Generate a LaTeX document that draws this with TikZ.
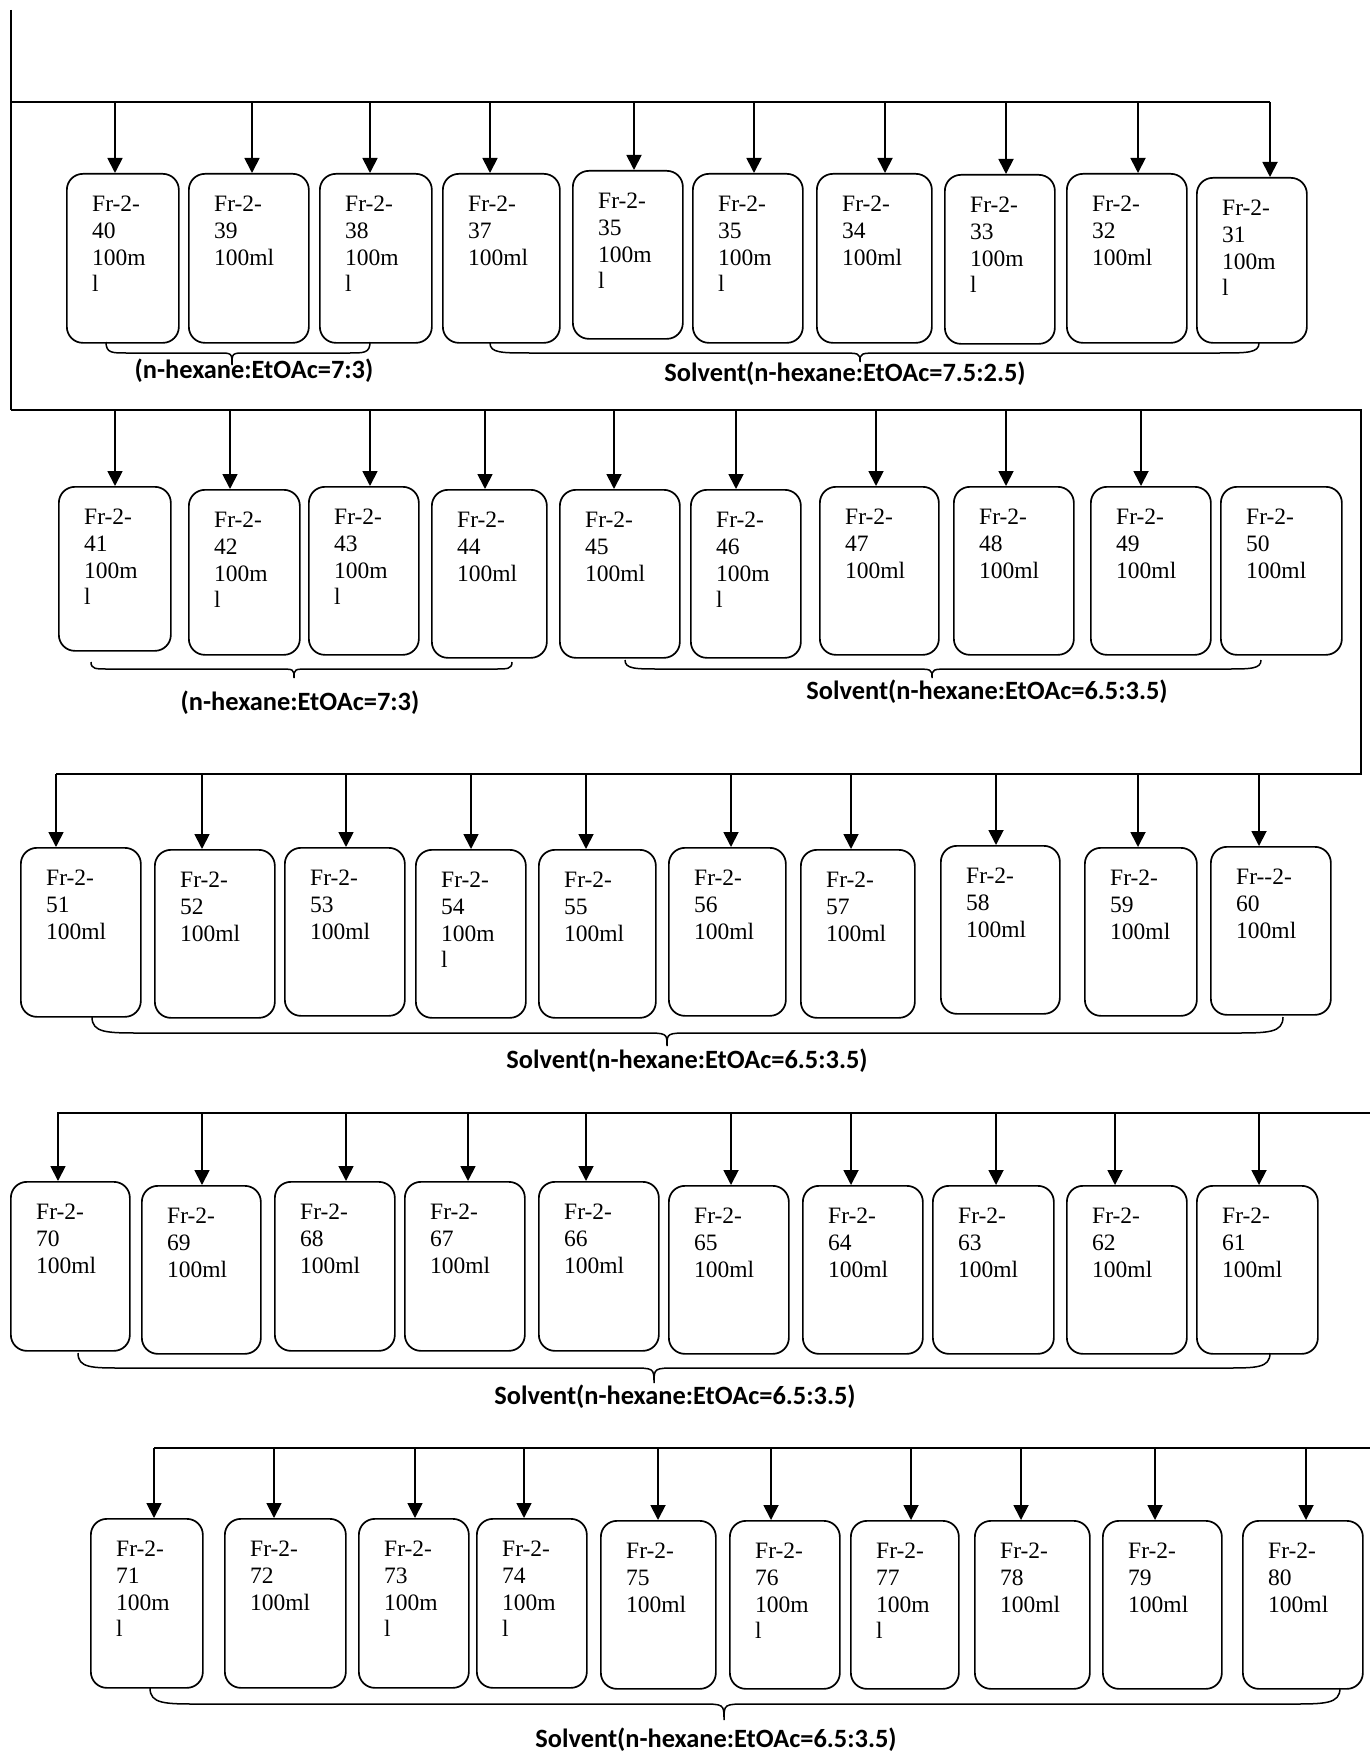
\documentclass[tikz,border=0pt]{standalone}
\usepackage{fontspec}
\setmainfont{Liberation Serif}
\newfontfamily\solfont{Carlito}
\usetikzlibrary{arrows.meta}
\tikzset{
  fracbx/.style={draw, rounded corners=16pt, line width=1.7pt, inner sep=0pt},
  ftxt/.style={inner sep=0pt, align=left, font=\fontsize{23.5}{26.7}\selectfont},
  arr/.style={line width=1.8pt, -{Triangle[length=15pt,width=15pt]}},
  bus/.style={line width=2pt},
  brc/.style={line width=1.5pt},
  sol/.style={inner sep=0pt, font=\solfont\bfseries\fontsize{26.4}{30}\selectfont}
}
\newcommand\fracbox[6]{%
  \node[fracbx, minimum width={(#4-#2)*1pt}, minimum height={(#5-#3)*1pt}, anchor=north west] (#1) at (#2,#3) {};
  \node[ftxt, anchor=north west, xshift=26pt, yshift=-23pt] (#1t) at (#1.north west) {#6};
}
\newcommand\feed[3]{% name, x, y of bus
  \coordinate (t#1) at (#2,#3);
  \draw[arr] (t#1) -- (t#1 |- #1.north);
}
% xL, xT, xR, yTop, yH, yTip, rEnd, rTip
\newcommand\solbrace[8]{%
  \draw[brc] (#1,#4) .. controls (#1,#5) and (#1+0.3*#7,#5) .. (#1+#7,#5) -- (#2-#8,#5)
    .. controls (#2,#5) .. (#2,#6) .. controls (#2,#5) .. (#2+#8,#5)
    -- (#3-#7,#5) .. controls (#3-0.3*#7,#5) and (#3,#5) .. (#3,#4);
}
\begin{document}
\begin{tikzpicture}[x=1pt,y=-1pt]
\useasboundingbox (0,0) rectangle (1370,1752);

% ---------------- Row 1
\fracbox{b40}{66}{173}{178}{342}{Fr-2-\\40\\100m\\l}
\fracbox{b39}{188}{173}{308}{342}{Fr-2-\\39\\100ml}
\fracbox{b38}{319}{173}{431}{342}{Fr-2-\\38\\100m\\l}
\fracbox{b37}{442}{173}{559}{342}{Fr-2-\\37\\100ml}
\fracbox{b35a}{572}{170}{682}{338}{Fr-2-\\35\\100m\\l}
\fracbox{b35b}{692}{173}{802}{342}{Fr-2-\\35\\100m\\l}
\fracbox{b34}{816}{173}{931}{342}{Fr-2-\\34\\100ml}
\fracbox{b33}{944}{174}{1054}{343}{Fr-2-\\33\\100m\\l}
\fracbox{b32}{1066}{173}{1186}{342}{Fr-2-\\32\\100ml}
\fracbox{b31}{1196}{177}{1306}{342}{Fr-2-\\31\\100m\\l}

\coordinate (top) at (11,10);
\coordinate (r1l) at (11,102);
\coordinate (r1r) at (1270,102);
\coordinate (r2l) at (11,410);
\coordinate (r2r) at (1361,410);
\draw[bus] (top) -- (r2l);
\draw[bus] (r1l) -- (r1r);

\feed{b40}{115}{102}
\feed{b39}{252}{102}
\feed{b38}{370}{102}
\feed{b37}{490}{102}
\feed{b35a}{634}{102}
\feed{b35b}{754}{102}
\feed{b34}{885}{102}
\feed{b33}{1006}{102}
\feed{b32}{1138}{102}
\feed{b31}{1270}{102}

\solbrace{106}{232}{370}{342}{353}{365}{20}{14}
\solbrace{490}{860}{1259}{343}{353}{362}{40}{22}
\node[sol] (s1a) at (254,371) {(n-hexane:EtOAc=7:3)};
\node[sol] (s1b) at (845,374) {Solvent(n-hexane:EtOAc=7.5:2.5)};

% ---------------- Row 2
\fracbox{b41}{58}{486}{170}{650}{Fr-2-\\41\\100m\\l}
\fracbox{b42}{188}{489}{299}{654}{Fr-2-\\42\\100m\\l}
\fracbox{b43}{308}{486}{418}{654}{Fr-2-\\43\\100m\\l}
\fracbox{b44}{431}{489}{546}{657}{Fr-2-\\44\\100ml}
\fracbox{b45}{559}{489}{679}{657}{Fr-2-\\45\\100ml}
\fracbox{b46}{690}{489}{800}{657}{Fr-2-\\46\\100m\\l}
\fracbox{b47}{819}{486}{938}{654}{Fr-2-\\47\\100ml}
\fracbox{b48}{953}{486}{1073}{654}{Fr-2-\\48\\100ml}
\fracbox{b49}{1090}{486}{1210}{654}{Fr-2-\\49\\100ml}
\fracbox{b50}{1220}{486}{1341}{654}{Fr-2-\\50\\100ml}

\coordinate (r3r) at (1361,774);
\coordinate (r3l) at (56,774);
\draw[bus] (r2l) -- (r2r) -- (r3r) -- (r3l);

\feed{b41}{115}{410}
\feed{b42}{230}{410}
\feed{b43}{370}{410}
\feed{b44}{485}{410}
\feed{b45}{614}{410}
\feed{b46}{736}{410}
\feed{b47}{876}{410}
\feed{b48}{1006}{410}
\feed{b49}{1141}{410}

\solbrace{91}{294}{512}{662}{669}{678}{16}{16}
\solbrace{625}{932}{1261}{660}{669}{678}{35}{20}
\node[sol] (s2a) at (300,703) {(n-hexane:EtOAc=7:3)};
\node[sol] (s2b) at (987,692) {Solvent(n-hexane:EtOAc=6.5:3.5)};

% ---------------- Row 3
\fracbox{b51}{20}{847}{140}{1016}{Fr-2-\\51\\100ml}
\fracbox{b52}{154}{849}{274}{1017}{Fr-2-\\52\\100ml}
\fracbox{b53}{284}{847}{404}{1015}{Fr-2-\\53\\100ml}
\fracbox{b54}{415}{849}{525}{1017}{Fr-2-\\54\\100m\\l}
\fracbox{b55}{538}{849}{655}{1017}{Fr-2-\\55\\100ml}
\fracbox{b56}{668}{847}{785}{1015}{Fr-2-\\56\\100ml}
\fracbox{b57}{800}{849}{914}{1017}{Fr-2-\\57\\100ml}
\fracbox{b58}{940}{845}{1059}{1013}{Fr-2-\\58\\100ml}
\fracbox{b59}{1084}{847}{1196}{1015}{Fr-2-\\59\\100ml}
\fracbox{b60}{1210}{846}{1330}{1014}{Fr-{}-2-\\60\\100ml}

\feed{b51}{56}{774}
\feed{b52}{202}{774}
\feed{b53}{346}{774}
\feed{b54}{471}{774}
\feed{b55}{586}{774}
\feed{b56}{731}{774}
\feed{b57}{851}{774}
\feed{b58}{996}{774}
\feed{b59}{1138}{774}
\feed{b60}{1259}{774}

\solbrace{92}{667}{1283}{1017}{1033}{1046}{50}{24}
\node[sol] (s3) at (687,1061) {Solvent(n-hexane:EtOAc=6.5:3.5)};

% ---------------- Row 4
\fracbox{b70}{10}{1181}{129}{1350}{Fr-2-\\70\\100ml}
\fracbox{b69}{141}{1185}{260}{1353}{Fr-2-\\69\\100ml}
\fracbox{b68}{274}{1181}{394}{1350}{Fr-2-\\68\\100ml}
\fracbox{b67}{404}{1181}{524}{1350}{Fr-2-\\67\\100ml}
\fracbox{b66}{538}{1181}{658}{1350}{Fr-2-\\66\\100ml}
\fracbox{b65}{668}{1185}{788}{1353}{Fr-2-\\65\\100ml}
\fracbox{b64}{802}{1185}{922}{1353}{Fr-2-\\64\\100ml}
\fracbox{b63}{932}{1185}{1053}{1353}{Fr-2-\\63\\100ml}
\fracbox{b62}{1066}{1185}{1186}{1353}{Fr-2-\\62\\100ml}
\fracbox{b61}{1196}{1185}{1317}{1353}{Fr-2-\\61\\100ml}

\coordinate (r4l) at (57,1113);
\coordinate (r4r) at (1370,1113);
\draw[bus] (r4l) -- (r4r);

\feed{b70}{58}{1113}
\feed{b69}{202}{1113}
\feed{b68}{346}{1113}
\feed{b67}{468}{1113}
\feed{b66}{586}{1113}
\feed{b65}{731}{1113}
\feed{b64}{851}{1113}
\feed{b63}{996}{1113}
\feed{b62}{1115}{1113}
\feed{b61}{1259}{1113}

\solbrace{78}{654}{1270}{1353}{1368}{1383}{45}{24}
\node[sol] (s4) at (675,1397) {Solvent(n-hexane:EtOAc=6.5:3.5)};

% ---------------- Row 5
\fracbox{b71}{90}{1518}{202}{1687}{Fr-2-\\71\\100m\\l}
\fracbox{b72}{224}{1518}{345}{1687}{Fr-2-\\72\\100ml}
\fracbox{b73}{358}{1518}{468}{1687}{Fr-2-\\73\\100m\\l}
\fracbox{b74}{476}{1518}{586}{1687}{Fr-2-\\74\\100m\\l}
\fracbox{b75}{600}{1520}{715}{1688}{Fr-2-\\75\\100ml}
\fracbox{b76}{729}{1520}{839}{1688}{Fr-2-\\76\\100m\\l}
\fracbox{b77}{850}{1520}{958}{1688}{Fr-2-\\77\\100m\\l}
\fracbox{b78}{974}{1520}{1089}{1688}{Fr-2-\\78\\100ml}
\fracbox{b79}{1102}{1520}{1221}{1688}{Fr-2-\\79\\100ml}
\fracbox{b80}{1242}{1520}{1362}{1688}{Fr-2-\\80\\100ml}

\coordinate (r5l) at (154,1448);
\coordinate (r5r) at (1370,1448);
\draw[bus] (r5l) -- (r5r);

\feed{b71}{154}{1448}
\feed{b72}{274}{1448}
\feed{b73}{415}{1448}
\feed{b74}{524}{1448}
\feed{b75}{658}{1448}
\feed{b76}{771}{1448}
\feed{b77}{911}{1448}
\feed{b78}{1021}{1448}
\feed{b79}{1155}{1448}
\feed{b80}{1306}{1448}

\solbrace{150}{724}{1340}{1688}{1704}{1720}{50}{24}
\node[sol] (s5) at (716,1740) {Solvent(n-hexane:EtOAc=6.5:3.5)};
\end{tikzpicture}
\end{document}
